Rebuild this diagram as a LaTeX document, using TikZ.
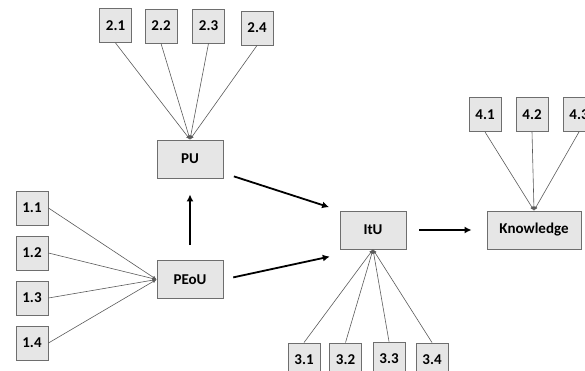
\documentclass[tikz,border=0pt]{standalone}
\usepackage{fontspec}
\setmainfont{Carlito}
\usetikzlibrary{arrows.meta}
\definecolor{boxfill}{RGB}{230,230,230}
\definecolor{boxline}{RGB}{110,110,110}
\definecolor{linkline}{RGB}{90,90,90}
\tikzset{
  indicator/.style={draw=boxline,fill=boxfill,line width=0.9pt,minimum width=32pt,minimum height=34pt,inner sep=0pt,font=\fontsize{15}{17}\selectfont\bfseries},
  construct/.style={draw=boxline,fill=boxfill,line width=0.9pt,minimum width=66pt,minimum height=38pt,inner sep=0pt,font=\fontsize{15}{17}\selectfont\bfseries},
  link/.style={draw=linkline,line width=0.6pt,-{Latex[length=4pt,width=3.5pt]}},
  causal/.style={draw=black,line width=1.8pt,-{Latex[length=7pt,width=7pt]}}
}
\begin{document}
\begin{tikzpicture}[x=1pt,y=1pt,yscale=-1,xscale=1]
\useasboundingbox (0,0) rectangle (585,371);
%Constructs
\node[construct] (PU) at (190,159) {PU};
\node[construct] (PEoU) at (190,279.5) {PEoU};
\node[construct] (ItU) at (373,230) {ItU};
\node[construct,minimum width=94pt] (Know) at (534,230) {Knowledge};
%Indicators of PU
\node[indicator] (i21) at (115.5,25.5) {2.1};
\node[indicator] (i22) at (161,26) {2.2};
\node[indicator] (i23) at (208.5,26) {2.3};
\node[indicator] (i24) at (257,28) {2.4};
%Indicators of PEoU
\node[indicator] (i11) at (32,208) {1.1};
\node[indicator] (i12) at (32,253) {1.2};
\node[indicator] (i13) at (32,298) {1.3};
\node[indicator] (i14) at (32,343) {1.4};
%Indicators of ItU
\node[indicator] (i31) at (304,360) {3.1};
\node[indicator] (i32) at (345.5,360) {3.2};
\node[indicator] (i33) at (389,359) {3.3};
\node[indicator] (i34) at (432,360) {3.4};
%Indicators of Knowledge
\node[indicator] (i41) at (485,114.5) {4.1};
\node[indicator] (i42) at (532,114.5) {4.2};
\node[indicator] (i43) at (579,114.5) {4.3};
%Measurement links
\draw[link] (i21.south) -- (PU.north);
\draw[link] (i22.south) -- (PU.north);
\draw[link] (i23.south) -- (PU.north);
\draw[link] (i24.south) -- (PU.north);
\draw[link] (i11.east) -- (PEoU.west);
\draw[link] (i12.east) -- (PEoU.west);
\draw[link] (i13.east) -- (PEoU.west);
\draw[link] (i14.east) -- (PEoU.west);
\draw[link] (i31.north) -- (ItU.south);
\draw[link] (i32.north) -- (ItU.south);
\draw[link] (i33.north) -- (ItU.south);
\draw[link] (i34.north) -- (ItU.south);
\draw[link] (i41.south) -- (Know.north);
\draw[link] (i42.south) -- (Know.north);
\draw[link] (i43.south) -- (Know.north);
%Structural paths
\draw[causal,shorten <=15pt,shorten >=16pt] (PEoU.north) -- (PU.south);
\draw[causal,shorten <=11pt,shorten >=11pt] ([yshift=14pt]PU.east) -- (ItU.north west);
\draw[causal,shorten <=10pt,shorten >=10pt] (PEoU.east) -- ([yshift=5pt]ItU.south west);
\draw[causal,shorten <=13pt,shorten >=15pt] (ItU.east) -- (Know.west);
\end{tikzpicture}
\end{document}
